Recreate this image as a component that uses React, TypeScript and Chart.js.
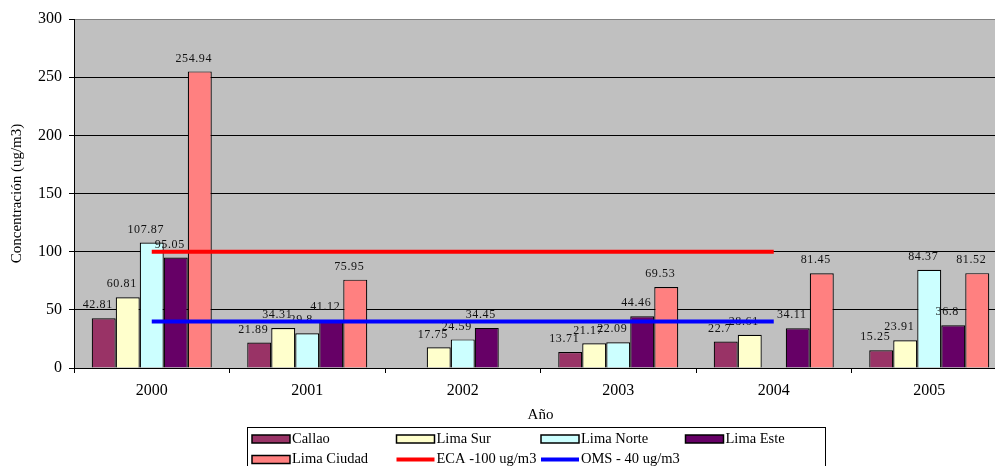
import React, { useEffect, useRef } from "react";
import { Chart, registerables } from "chart.js";
Chart.register(...registerables);

const years = ["2000", "2001", "2002", "2003", "2004", "2005"];
const callao = [42.81, 21.89, null, 13.71, 22.7, 15.25];
const limaSur = [60.81, 34.31, 17.75, 21.17, 28.61, 23.91];
const limaNorte = [107.87, 29.8, 24.59, 22.09, null, 84.37];
const limaEste = [95.05, 41.12, 34.45, 44.46, 34.11, 36.8];
const limaCiudad = [254.94, 75.95, null, 69.53, 81.45, 81.52];
const eca = [100, 100, 100, 100, 100, null];
const oms = [40, 40, 40, 40, 40, null];
const yMin = 0;
const yMax = 300;
const yStep = 50;

const FONT = '"Liberation Serif", "Times New Roman", serif';

const plotBg = {
  id: "plotBg",
  beforeDraw(chart: any) {
    const { ctx, chartArea } = chart;
    ctx.save();
    ctx.fillStyle = "#C0C0C0";
    ctx.fillRect(chartArea.left, chartArea.top, chartArea.right - chartArea.left, chartArea.bottom - chartArea.top);
    ctx.restore();
  },
};

// labels drawn once all bars are painted (first bar dataset is drawn last), lines then go on top
const barLabels = {
  id: "barLabels",
  afterDatasetDraw(chart: any, args: any) {
    if (args.index !== 0) return;
    const { ctx } = chart;
    ctx.save();
    ctx.font = `12px ${FONT}`;
    try { (ctx as any).letterSpacing = "0.6px"; } catch (e) {}
    ctx.fillStyle = "#111";
    ctx.textAlign = "center";
    ctx.textBaseline = "middle";
    chart.data.datasets.forEach((ds: any, i: number) => {
      if (ds.type === "line") return;
      const meta = chart.getDatasetMeta(i);
      meta.data.forEach((el: any, j: number) => {
        const v = ds.data[j];
        if (v === null || v === undefined) return;
        ctx.fillText(String(v), el.x - 6, el.y - 13);
      });
    });
    ctx.restore();
  },
};

const boxLegend = {
  id: "boxLegend",
  afterDraw(chart: any) {
    const { ctx } = chart;
    const left = 247;
    const top = 427;
    const right = 825;
    const colW = 144.5;
    const rowH = 20.5;
    const firstRow = 439;
    ctx.save();
    ctx.strokeStyle = "#000";
    ctx.lineWidth = 1;
    ctx.strokeRect(left + 0.5, top + 0.5, right - left, 80);
    ctx.font = `14.5px ${FONT}`;
    ctx.textAlign = "left";
    ctx.textBaseline = "middle";
    chart.data.datasets.forEach((ds: any, i: number) => {
      const col = i % 4;
      const row = Math.floor(i / 4);
      const x = left + 5 + col * colW;
      const y = firstRow + row * rowH;
      if (ds.type === "line") {
        ctx.strokeStyle = ds.borderColor;
        ctx.lineWidth = 4;
        ctx.beginPath();
        ctx.moveTo(x, y);
        ctx.lineTo(x + 38, y);
        ctx.stroke();
      } else {
        ctx.fillStyle = ds.backgroundColor;
        ctx.fillRect(x, y - 4, 38, 8);
        ctx.strokeStyle = "#000";
        ctx.lineWidth = 1.5;
        ctx.strokeRect(x, y - 4, 38, 8);
      }
      ctx.fillStyle = "#000";
      ctx.fillText(ds.label, x + 40, y);
    });
    ctx.restore();
  },
};

export default function App() {
  const ref = useRef<HTMLCanvasElement>(null);
  useEffect(() => {
    if (!ref.current) return;
    const barDs = (label: string, data: any[], color: string) => ({
      type: "bar" as const,
      label,
      data,
      backgroundColor: color,
      borderColor: "#000",
      borderWidth: 1.2,
      order: 1,
      categoryPercentage: 0.772,
      barPercentage: 1.0,
    });
    const lineDs = (label: string, data: any[], color: string) => ({
      type: "line" as const,
      label,
      data,
      borderColor: color,
      backgroundColor: color,
      borderWidth: 4,
      pointRadius: 0,
      pointHoverRadius: 0,
      fill: false,
      spanGaps: false,
      order: 0,
    });
    const chart = new Chart(ref.current, {
      type: "bar",
      data: {
        labels: years,
        datasets: [
          barDs("Callao", callao, "#993366"),
          barDs("Lima Sur", limaSur, "#FFFFCC"),
          barDs("Lima Norte", limaNorte, "#CCFFFF"),
          barDs("Lima Este", limaEste, "#660066"),
          barDs("Lima Ciudad", limaCiudad, "#FF8080"),
          lineDs("ECA -100 ug/m3", eca, "#FF0000"),
          lineDs("OMS - 40 ug/m3", oms, "#0000FF"),
        ] as any,
      },
      options: {
        responsive: false,
        animation: false,
        events: [],
        layout: { padding: { left: 0, top: 19, right: 13, bottom: 72 } },
        plugins: {
          legend: { display: false },
          title: { display: false },
          tooltip: { enabled: false },
        },
        scales: {
          x: {
            offset: true,
            grid: {
              offset: true,
              drawOnChartArea: false,
              drawTicks: true,
              tickLength: 5,
              color: "#000",
            },
            border: { display: true, color: "#000", width: 1 },
            ticks: { color: "#000", font: { family: FONT, size: 16 }, padding: 8, maxRotation: 0 },
            title: {
              display: true,
              text: "Año",
              color: "#000",
              font: { family: FONT, size: 15 },
              padding: { top: 0, bottom: 4 },
            },
            afterFit(scale: any) {
              scale.height = 60;
            },
          },
          y: {
            min: yMin,
            max: yMax,
            ticks: { stepSize: yStep, color: "#000", font: { family: FONT, size: 16 }, padding: 7 },
            grid: {
              color: (c: any) => (c.tick && c.tick.value === yMax ? "#808080" : "#000"),
              tickColor: "#000",
              tickLength: 5,
              lineWidth: 1,
            },
            border: { display: true, color: "#000", width: 1 },
            title: {
              display: true,
              text: "Concentración (ug/m3)",
              color: "#000",
              font: { family: FONT, size: 15 },
              padding: { top: 8, bottom: 0 },
            },
            afterFit(scale: any) {
              scale.width = 74;
            },
          },
        },
      } as any,
      plugins: [plotBg, barLabels, boxLegend],
    });
    return () => chart.destroy();
  }, []);
  return (
    <div style={{ position: "fixed", left: 0, top: 0, width: 995, height: 466, overflow: "hidden", background: "#fff" }}>
      <canvas ref={ref} width={1020} height={500} style={{ display: "block" }} />
    </div>
  );
}
